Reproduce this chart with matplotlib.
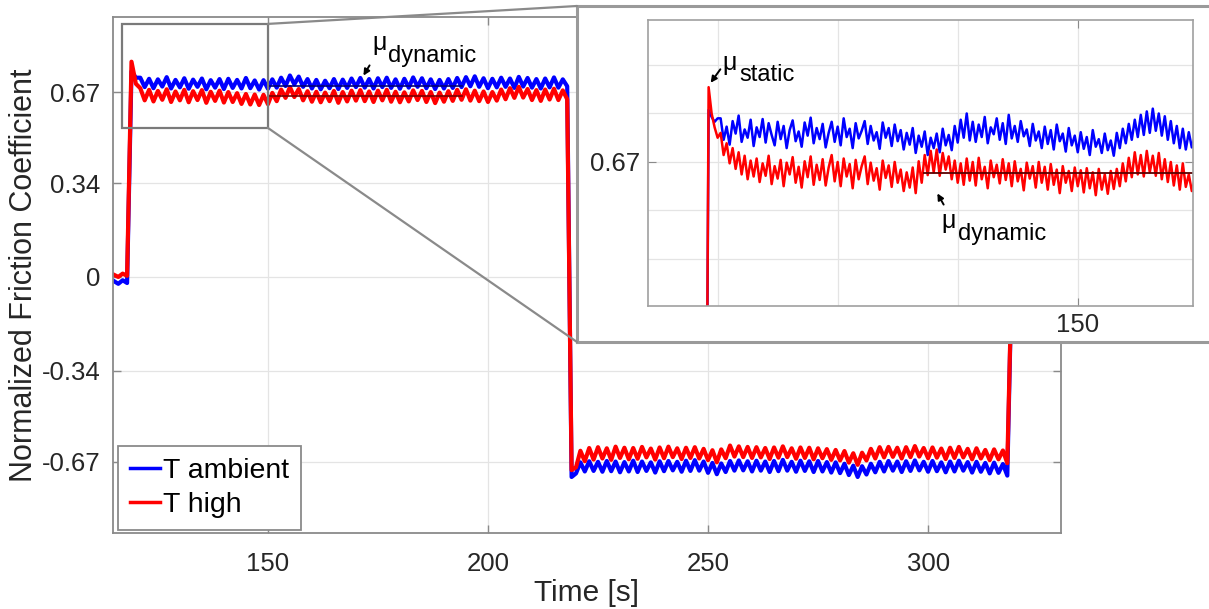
import numpy as np
import matplotlib
matplotlib.use("Agg")
import matplotlib.pyplot as plt
from matplotlib.patches import Rectangle, ConnectionPatch, FancyArrowPatch

plt.rcParams['font.family'] = ['Liberation Sans', 'DejaVu Sans']

# ---- main trace, 1 s samples from 115 s to 319 s ----
main_t = np.arange(115, 320)

blue_main = [
    -0.015, -0.025, -0.012, -0.022,            # 115-118
    0.745, 0.722,                               # 119-120
    0.722, 0.688, 0.718, 0.684, 0.716, 0.690, 0.724, 0.683, 0.714, 0.687,
    0.720, 0.682, 0.715, 0.689, 0.719, 0.680, 0.713, 0.686, 0.717, 0.681,
    0.718, 0.685, 0.714, 0.683, 0.721, 0.684, 0.712, 0.679, 0.713, 0.682,
    0.716, 0.686, 0.722, 0.692, 0.730, 0.698, 0.726, 0.689, 0.717, 0.683,
    0.714, 0.680, 0.711, 0.684, 0.717, 0.681, 0.715, 0.685, 0.719, 0.688,
    0.721, 0.686, 0.717, 0.683, 0.720, 0.688, 0.722, 0.685, 0.716, 0.682,
    0.718, 0.686, 0.723, 0.689, 0.720, 0.684, 0.716, 0.681, 0.714, 0.683,
    0.717, 0.685, 0.721, 0.688, 0.724, 0.691, 0.727, 0.689, 0.720, 0.684,
    0.718, 0.687, 0.722, 0.689, 0.719, 0.685, 0.725, 0.690, 0.721, 0.686,
    0.717, 0.683, 0.719, 0.687, 0.723, 0.686, 0.716, 0.691,
    -0.725,                                     # 219
    -0.712, -0.672, -0.705, -0.668, -0.703, -0.670, -0.706, -0.667, -0.704, -0.669,
    -0.708, -0.671, -0.705, -0.666, -0.707, -0.669, -0.703, -0.672, -0.709, -0.668,
    -0.704, -0.667, -0.701, -0.670, -0.706, -0.666, -0.703, -0.664, -0.702, -0.669,
    -0.710, -0.674, -0.715, -0.676, -0.707, -0.667, -0.702, -0.665, -0.701, -0.668,
    -0.705, -0.666, -0.702, -0.669, -0.707, -0.667, -0.704, -0.663, -0.702, -0.670,
    -0.706, -0.666, -0.703, -0.668, -0.707, -0.667, -0.705, -0.671, -0.709, -0.672,
    -0.711, -0.677, -0.718, -0.684, -0.725, -0.686, -0.716, -0.677, -0.708, -0.670,
    -0.705, -0.667, -0.702, -0.669, -0.707, -0.668, -0.703, -0.665, -0.701, -0.670,
    -0.706, -0.667, -0.704, -0.672, -0.708, -0.669, -0.705, -0.666, -0.702, -0.671,
    -0.709, -0.670, -0.706, -0.674, -0.712, -0.673, -0.710, -0.678, -0.720,
    0.0,                                        # 319
]

red_main = [
    0.008, 0.000, 0.012, 0.004,
    0.780, 0.700,
    0.684, 0.640, 0.678, 0.636, 0.674, 0.642, 0.680, 0.634, 0.672, 0.640,
    0.678, 0.633, 0.673, 0.641, 0.677, 0.631, 0.671, 0.638, 0.675, 0.632,
    0.670, 0.634, 0.666, 0.627, 0.663, 0.625, 0.661, 0.623, 0.660, 0.626,
    0.667, 0.637, 0.679, 0.649, 0.688, 0.652, 0.681, 0.640, 0.673, 0.635,
    0.671, 0.633, 0.668, 0.637, 0.674, 0.631, 0.670, 0.636, 0.675, 0.639,
    0.677, 0.637, 0.672, 0.634, 0.675, 0.640, 0.678, 0.635, 0.671, 0.633,
    0.669, 0.636, 0.676, 0.641, 0.674, 0.634, 0.670, 0.630, 0.668, 0.635,
    0.673, 0.638, 0.678, 0.642, 0.680, 0.639, 0.675, 0.637, 0.672, 0.634,
    0.670, 0.639, 0.679, 0.644, 0.684, 0.649, 0.689, 0.650, 0.681, 0.641,
    0.677, 0.638, 0.679, 0.643, 0.682, 0.641, 0.676, 0.644,
    -0.700,
    -0.690, -0.630, -0.668, -0.620, -0.662, -0.617, -0.658, -0.621, -0.663, -0.615,
    -0.656, -0.619, -0.661, -0.620, -0.659, -0.616, -0.654, -0.622, -0.662, -0.618,
    -0.657, -0.615, -0.653, -0.621, -0.660, -0.619, -0.656, -0.617, -0.658, -0.623,
    -0.664, -0.628, -0.672, -0.625, -0.657, -0.611, -0.651, -0.614, -0.653, -0.616,
    -0.656, -0.617, -0.654, -0.620, -0.660, -0.618, -0.655, -0.614, -0.653, -0.621,
    -0.659, -0.618, -0.656, -0.619, -0.661, -0.621, -0.657, -0.624, -0.663, -0.627,
    -0.665, -0.631, -0.673, -0.639, -0.681, -0.637, -0.665, -0.623, -0.658, -0.617,
    -0.654, -0.616, -0.652, -0.619, -0.658, -0.617, -0.653, -0.613, -0.651, -0.620,
    -0.657, -0.618, -0.655, -0.622, -0.660, -0.619, -0.656, -0.616, -0.654, -0.623,
    -0.661, -0.621, -0.658, -0.627, -0.664, -0.625, -0.661, -0.629, -0.675,
    0.0,
]

# mean dynamic levels marked in the main plot
mean_span = [150, 194]
blue_mean = 0.692
red_mean = 0.656

# ---- zoomed trace, 0.25 s samples from 118 s to 159.75 s ----
zoom_t = np.arange(118.0, 160.0, 0.25)

blue_zoom = [
    0.0, 0.0, 0.0, 0.0, 0.0, 0.745, 0.735, 0.728, 0.733,
    0.733, 0.702, 0.721, 0.695, 0.729, 0.711, 0.737, 0.699, 0.717, 0.705, 0.731, 0.693,
    0.720, 0.706, 0.732, 0.698, 0.726, 0.709, 0.694, 0.728, 0.703, 0.722, 0.690, 0.716,
    0.730, 0.700, 0.714, 0.692, 0.727, 0.708, 0.734, 0.697, 0.719, 0.703, 0.725, 0.691,
    0.712, 0.728, 0.699, 0.721, 0.694, 0.733, 0.706, 0.718, 0.690, 0.726, 0.704, 0.715,
    0.729, 0.696, 0.722, 0.701, 0.713, 0.689, 0.727, 0.705, 0.719, 0.693, 0.724, 0.700,
    0.716, 0.688, 0.712, 0.695, 0.719, 0.683, 0.708, 0.692, 0.714, 0.680, 0.705, 0.690,
    0.711, 0.684, 0.718, 0.694, 0.709, 0.687, 0.722, 0.698, 0.731, 0.705, 0.740, 0.701,
    0.728, 0.699, 0.724, 0.706, 0.735, 0.697, 0.720, 0.710, 0.733, 0.702, 0.726, 0.696,
    0.738, 0.704, 0.722, 0.699, 0.729, 0.707, 0.717, 0.693, 0.725, 0.701, 0.714, 0.690,
    0.721, 0.696, 0.716, 0.688, 0.724, 0.700, 0.711, 0.685, 0.719, 0.694, 0.708, 0.684,
    0.713, 0.689, 0.706, 0.680, 0.716, 0.692, 0.703, 0.683, 0.711, 0.687, 0.701, 0.679,
    0.712, 0.690, 0.718, 0.697, 0.725, 0.702, 0.731, 0.706, 0.738, 0.709, 0.743, 0.712,
    0.747, 0.715, 0.740, 0.708, 0.736, 0.702, 0.729, 0.697, 0.722, 0.690, 0.718, 0.688,
    0.713, 0.691, 0.706,
]

red_zoom = [
    0.0, 0.0, 0.0, 0.0, 0.0, 0.778, 0.740, 0.720, 0.705,
    0.712, 0.680, 0.697, 0.668, 0.690, 0.660, 0.684, 0.652, 0.679, 0.645, 0.672, 0.649,
    0.675, 0.641, 0.668, 0.650, 0.679, 0.638, 0.664, 0.646, 0.673, 0.635, 0.669, 0.652,
    0.677, 0.640, 0.663, 0.633, 0.671, 0.648, 0.678, 0.637, 0.666, 0.644, 0.674, 0.636,
    0.662, 0.680, 0.642, 0.670, 0.635, 0.675, 0.649, 0.667, 0.632, 0.673, 0.645, 0.664,
    0.678, 0.638, 0.669, 0.643, 0.661, 0.630, 0.672, 0.647, 0.665, 0.634, 0.670, 0.640,
    0.659, 0.628, 0.655, 0.633, 0.662, 0.625, 0.671, 0.640, 0.680, 0.651, 0.686, 0.655,
    0.688, 0.650, 0.683, 0.659, 0.678, 0.645, 0.672, 0.640, 0.668, 0.637, 0.675, 0.643,
    0.670, 0.636, 0.676, 0.645, 0.663, 0.632, 0.672, 0.648, 0.666, 0.639, 0.674, 0.644,
    0.668, 0.635, 0.671, 0.642, 0.660, 0.629, 0.669, 0.646, 0.664, 0.633, 0.670, 0.640,
    0.663, 0.630, 0.667, 0.637, 0.659, 0.625, 0.664, 0.640, 0.657, 0.628, 0.662, 0.635,
    0.658, 0.626, 0.661, 0.632, 0.655, 0.622, 0.660, 0.630, 0.652, 0.624, 0.657, 0.631,
    0.660, 0.635, 0.668, 0.642, 0.676, 0.648, 0.684, 0.652, 0.680, 0.649, 0.686, 0.655,
    0.679, 0.650, 0.683, 0.645, 0.674, 0.641, 0.670, 0.636, 0.665, 0.630, 0.668, 0.634,
    0.652, 0.628, 0.645,
]
zoom_mean_span = [137.2, 159.6]
zoom_mean = 0.654

main_yticks = [-0.67, -0.34, 0, 0.34, 0.67]
main_yticklabels = ['-0.67', '-0.34', '0', '0.34', '0.67']
main_xticks = [150, 200, 250, 300]

W, H = 1209, 609
gray = '#8a8a8a'
grid_c = '#e4e4e4'


def fx(x):
    return x / W


def fy(y):
    return 1 - y / H


fig = plt.figure(figsize=(W / 100, H / 100), dpi=100)

# ---------------- main axes ----------------
ax = fig.add_axes([fx(113), fy(533), (1061 - 113) / W, (533 - 17) / H], zorder=1)
ax.plot(main_t, blue_main, color='blue', lw=3.0, label='T ambient')
ax.plot(main_t, red_main, color='red', lw=3.0, label='T high')
ax.plot(mean_span, [blue_mean, blue_mean], color='#00007a', lw=1.2)
ax.plot(mean_span, [red_mean, red_mean], color='#7a0000', lw=1.2)
ax.set_xlim(114.8, 330.2)
ax.set_ylim(-0.928, 0.942)
ax.set_xticks(main_xticks)
ax.set_yticks(main_yticks)
ax.set_yticklabels(main_yticklabels)
ax.grid(True, color=grid_c, lw=0.9)
ax.set_axisbelow(True)
ax.tick_params(direction='in', length=6, top=True, right=True, colors=gray,
               labelcolor='#262626', labelsize=18.5, width=1)
ax.tick_params(axis='x', pad=14)
ax.tick_params(axis='y', pad=9)
for s in ax.spines.values():
    s.set_color(gray)
    s.set_linewidth(1.3)
ax.set_xlabel('Time [s]', fontsize=21.5, color='#262626', labelpad=2)
ax.set_ylabel('Normalized Friction Coefficient', fontsize=22, color='#262626', labelpad=2)

leg = ax.legend(loc='lower left', bbox_to_anchor=(fx(118), fy(530)),
                bbox_transform=fig.transFigure, fontsize=20.5, fancybox=False,
                edgecolor=gray, framealpha=1, borderaxespad=0, handlelength=1.05,
                handletextpad=0.12, labelspacing=0.3, borderpad=0.42)
for line in leg.get_lines():
    line.set_linewidth(2.5)
leg.get_frame().set_linewidth(1.3)

# zoom box on main axes
ax.add_patch(Rectangle((116.8, 0.54), 33.2, 0.377, fill=False, ec='#7a7a7a', lw=1.6, zorder=5))

# annotation on main axes
fig.text(fx(372), fy(50), 'μ', fontsize=18, va='baseline', zorder=10)
fig.text(fx(388), fy(62), 'dynamic', fontsize=17, va='baseline', zorder=10)
fig.add_artist(FancyArrowPatch((fx(371), fy(63)), (fx(362), fy(78)), transform=fig.transFigure,
                               arrowstyle='-|>', mutation_scale=9, color='k', lw=1.4, zorder=10))

# ---------------- inset panel ----------------
panel = fig.add_axes([fx(577), fy(342), (1215 - 577) / W, (342 - 6) / H], zorder=2)
panel.set_xticks([])
panel.set_yticks([])
for s in panel.spines.values():
    s.set_color('#9a9a9a')
    s.set_linewidth(2.2)

ins = fig.add_axes([fx(648), fy(306), (1193 - 648) / W, (306 - 20) / H], zorder=3)
ins.plot(zoom_t, blue_zoom, color='blue', lw=1.8)
ins.plot(zoom_t, red_zoom, color='red', lw=1.8)
ins.plot(zoom_mean_span, [zoom_mean, zoom_mean], color='#5a0000', lw=1.3)
ins.set_xlim(114.2, 159.6)
ins.set_ylim(0.462, 0.875)
ins.set_xticks([150])
ins.set_xticks([120, 130, 140], minor=True)
ins.set_yticks([0.67])
ins.set_yticks([0.53, 0.60, 0.74, 0.81], minor=True)
ins.grid(True, which='both', color=grid_c, lw=0.9)
ins.set_axisbelow(True)
ins.tick_params(which='major', direction='in', length=6, top=True, right=True, colors=gray,
                labelcolor='#262626', labelsize=18.5)
ins.tick_params(which='minor', length=0)
ins.tick_params(axis='x', pad=5)
ins.tick_params(axis='y', pad=6)
for s in ins.spines.values():
    s.set_color('#a0a0a0')
    s.set_linewidth(1.2)

fig.text(fx(722), fy(70), 'μ', fontsize=18, va='baseline', zorder=10)
fig.text(fx(739), fy(81), 'static', fontsize=17, va='baseline', zorder=10)
fig.add_artist(FancyArrowPatch((fx(722), fy(67)), (fx(709), fy(85)), transform=fig.transFigure,
                               arrowstyle='-|>', mutation_scale=9, color='k', lw=1.4, zorder=10))
fig.text(fx(941), fy(228), 'μ', fontsize=18, va='baseline', zorder=10)
fig.text(fx(958), fy(240), 'dynamic', fontsize=17, va='baseline', zorder=10)
fig.add_artist(FancyArrowPatch((fx(945), fy(207)), (fx(936), fy(191)), transform=fig.transFigure,
                               arrowstyle='-|>', mutation_scale=9, color='k', lw=1.4, zorder=10))

# connector lines from zoom box to panel
for xy_a, xy_b in [((150, 0.917), (0, 1)), ((150, 0.54), (0, 0))]:
    con = ConnectionPatch(xyA=xy_a, coordsA=ax.transData, xyB=xy_b, coordsB=panel.transAxes,
                          color='#8a8a8a', lw=1.6)
    con.set_zorder(4)
    fig.add_artist(con)

fig.savefig('out.png', dpi=100)
